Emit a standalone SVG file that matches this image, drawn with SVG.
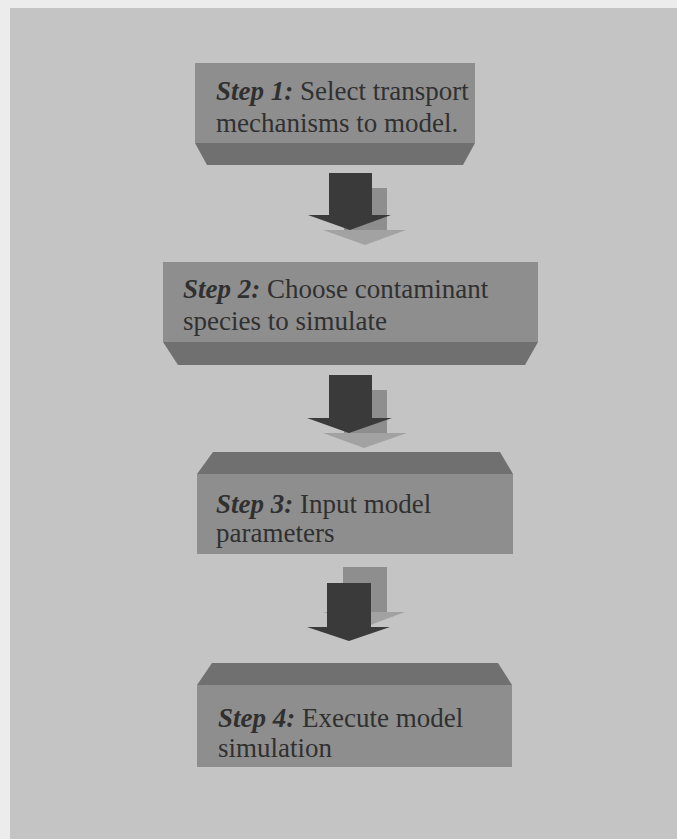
<svg xmlns="http://www.w3.org/2000/svg" width="677" height="839" viewBox="0 0 677 839">
<style>
.face{fill:#8e8e8e}
.bevel{fill:#707070}
.t{font-family:"Liberation Serif","Times New Roman",serif;font-size:27px;fill:#303030}
.b{font-weight:bold;font-style:italic}
.dark{fill:#3a3a3a}
.backshaft{fill:#8e8e8e}
.backhead{fill:#a2a2a2}
</style>
<rect x="0" y="0" width="677" height="839" fill="#ececec"/>
<rect x="10" y="8" width="667" height="831" fill="#c4c4c4"/>
<g id="connectors">
  <g id="arrow1">
    <polygon class="backhead" points="344,230 323,230 365,245 406,230 387,230"/>
    <rect class="backshaft" x="344" y="188" width="43" height="42"/>
    <polygon class="dark" points="329,173 372,173 372,215 391,215 350,230 308,215 329,215"/>
  </g>
  <g id="arrow2">
    <polygon class="backhead" points="344,433 323,433 364,448 407,433 387,433"/>
    <rect class="backshaft" x="344" y="390" width="43" height="43"/>
    <polygon class="dark" points="329,375 372,375 372,418 392,418 349,433 307,418 329,418"/>
  </g>
  <g id="arrow3">
    <polygon class="backhead" points="343,612 323,612 365,627 405,612 387,612"/>
    <rect class="backshaft" x="343" y="567" width="44" height="45"/>
    <polygon class="dark" points="327,583 371,583 371,627 390,627 349,641 307,627 327,627"/>
  </g>
</g>
<g id="step1">
  <rect class="face" x="195" y="63" width="280" height="80"/>
  <polygon class="bevel" points="195,143 475,143 463,165 207,165"/>
  <text class="t" x="216" y="100"><tspan class="b">Step 1:</tspan> Select transport</text>
  <text class="t" x="216" y="132">mechanisms to model.</text>
</g>
<g id="step2">
  <rect class="face" x="163" y="262" width="375" height="80"/>
  <polygon class="bevel" points="163,342 538,342 525,365 178,365"/>
  <text class="t" x="183" y="298"><tspan class="b">Step 2:</tspan> Choose contaminant</text>
  <text class="t" x="183" y="330">species to simulate</text>
</g>
<g id="step3">
  <polygon class="bevel" points="213,452 500,452 513,474 197,474"/>
  <rect class="face" x="197" y="474" width="316" height="80"/>
  <text class="t" x="216" y="513"><tspan class="b">Step 3:</tspan> Input model</text>
  <text class="t" x="216" y="542">parameters</text>
</g>
<g id="step4">
  <polygon class="bevel" points="212,663 498,663 512,685 197,685"/>
  <rect class="face" x="197" y="685" width="315" height="82"/>
  <text class="t" x="218" y="727"><tspan class="b">Step 4:</tspan> Execute model</text>
  <text class="t" x="218" y="757">simulation</text>
</g>
</svg>
